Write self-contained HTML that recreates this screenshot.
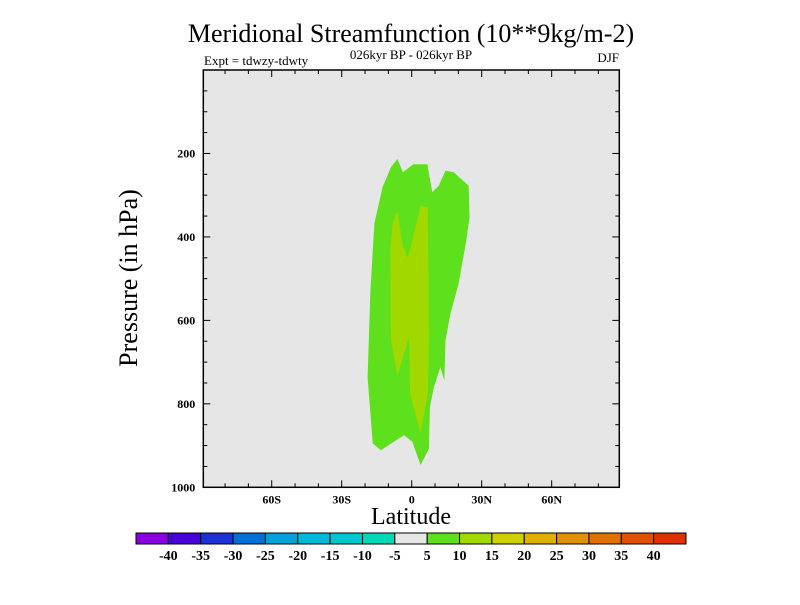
<!DOCTYPE html>
<html><head><meta charset="utf-8"><style>
body{margin:0;background:#fff;}
svg text{font-family:"Liberation Serif",serif;fill:#000;}
</style></head><body>
<svg id="chart" width="800" height="600" viewBox="0 0 800 600" xmlns="http://www.w3.org/2000/svg">
<text x="411" y="42" font-size="26" text-anchor="middle">Meridional Streamfunction (10**9kg/m-2)</text>
<text x="411" y="59" font-size="13" text-anchor="middle">026kyr BP - 026kyr BP</text>
<text x="204" y="65" font-size="13">Expt = tdwzy-tdwty</text>
<text x="619" y="62" font-size="13" text-anchor="end">DJF</text>
<rect x="203.3" y="70" width="416" height="417.3" fill="#e6e6e6"/>
<g id="contours"></g>
<g id="axes"></g>
<text transform="translate(137,278) rotate(-90)" font-size="26" text-anchor="middle">Pressure (in hPa)</text>
<text x="411" y="524" font-size="24" text-anchor="middle">Latitude</text>
<g id="colorbar"></g>
</svg>
<script>
const outerLat=[-6.1,-3.8,0.7,6.7,8.8,11.6,14.5,18,24.4,24.8,23.4,20.1,16.6,14.5,14,12.3,9.5,7.8,7.4,3.8,0.3,-3.3,-13.2,-16.7,-18.9,-17.7,-16,-12.5,-8.9];
const outerP=[213,245,226,226,293,277,241,245,277,353,408,512,584,648,744,712,760,808,907,947,891,875,911,895,736,528,368,281,233];
const innerLat=[-6.1,-4,-1.8,-0.4,3.8,6.9,7.4,6.9,3.8,-0.7,-1.1,-6.1,-8.9,-9.2,-8.2];
const innerP=[337,416,450,424,325,329,648,776,871,776,640,732,648,432,368];
const yTicks=[200,400,600,800,1000];
const xTicks=[-60,-30,0,30,60];
const xTickLabels=["60S","30S","0","30N","60N"];
const cbColors=["#8a00e0","#4a00d8","#1e30d8","#0070d8","#00a0d8","#00b8d8","#00c8d0","#00d8b8","#e6e6e6","#5ee01c","#a0d800","#d0d000","#e0b000","#e09000","#e07000","#e05000","#e03000"];
const cbLabels=["-40","-35","-30","-25","-20","-15","-10","-5","5","10","15","20","25","30","35","40"];

const NS="http://www.w3.org/2000/svg";
const L=203.3,R=619.3,T=70,B=487.3;
const xs=lat=>411.7+lat*2.333;
const ys=p=>B-(1000-p)*0.4173;
function mk(tag,attrs,parent){const e=document.createElementNS(NS,tag);for(const k in attrs)e.setAttribute(k,attrs[k]);parent.appendChild(e);return e;}
const cg=document.getElementById('contours');
let pts=outerLat.map((v,i)=>xs(v)+','+ys(outerP[i])).join(' ');
let o=mk('polygon',{points:pts,fill:'#5ee01c'},cg);


pts=innerLat.map((v,i)=>xs(v)+','+ys(innerP[i])).join(' ');
let n=mk('polygon',{points:pts,fill:'#a0d800'},cg);



const ag=document.getElementById('axes');
let fr=mk('rect',{x:L,y:T,width:R-L,height:B-T,fill:'none',stroke:'#000','stroke-width':1.5},ag);


for(let p=50;p<1000;p+=50){const y=ys(p);const len=(p%200===0)?7:4;
 mk('line',{x1:L,x2:L+len,y1:y,y2:y,stroke:'#000'},ag);mk('line',{x1:R,x2:R-len,y1:y,y2:y,stroke:'#000'},ag);}
for(let lat=-80;lat<=80;lat+=10){const x=xs(lat);const len=(lat%30===0)?7:4;
 mk('line',{x1:x,x2:x,y1:B,y2:B-len,stroke:'#000'},ag);mk('line',{x1:x,x2:x,y1:T,y2:T+len,stroke:'#000'},ag);}
yTicks.forEach(p=>{const t=mk('text',{x:L-8,y:ys(p)+4,'font-size':12,'font-weight':'bold','text-anchor':'end'},ag);t.textContent=p;
 
 });
xTicks.forEach((v,i)=>{const t=mk('text',{x:xs(v),y:B+16,'font-size':12,'font-weight':'bold','text-anchor':'middle'},ag);t.textContent=xTickLabels[i];
 
 });

const cb=document.getElementById('colorbar');
const cx0=136,cx1=686,cy=533,ch=11,bw=(cx1-cx0)/cbColors.length;
cbColors.forEach((c,i)=>{const r=mk('rect',{x:cx0+i*bw,y:cy,width:bw,height:ch,fill:c,stroke:'#000','stroke-width':1},cb);
 
 });
cbLabels.forEach((s,i)=>{const t=mk('text',{x:cx0+(i+1)*bw,y:cy+ch+16,'font-size':14,'font-weight':'bold','text-anchor':'middle'},cb);t.textContent=s;
 
 });
</script>
</body></html>
